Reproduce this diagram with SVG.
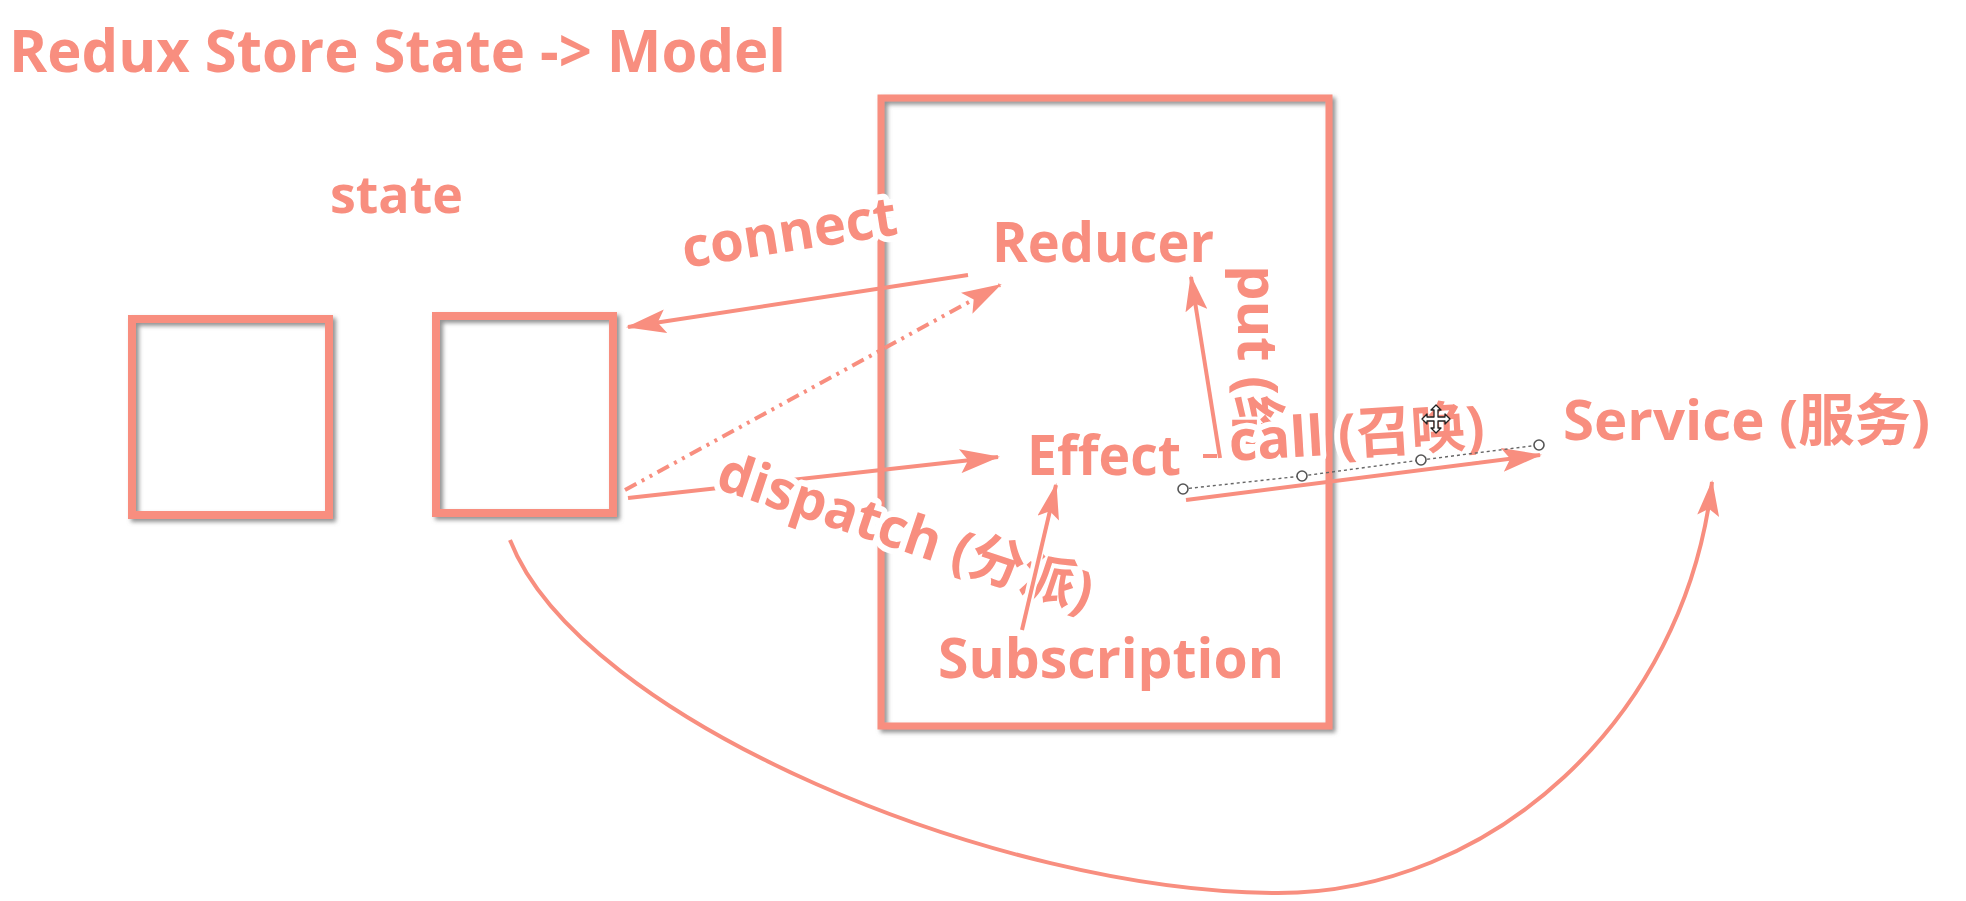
<svg xmlns="http://www.w3.org/2000/svg" width="1966" height="901" viewBox="0 0 1966 901">
<style>
.t{font-family:'Open Sans','Noto Sans CJK SC',sans-serif;font-weight:bold;fill:#F88E7F}
.halo{stroke:#fff;stroke-width:12;stroke-linejoin:round;paint-order:stroke}
.box{fill:none;stroke:#F88E7F;filter:url(#sh)}
.ln{fill:none;stroke:#F88E7F;stroke-width:4}
.sel{fill:#fff;stroke:#555;stroke-width:1.6}
</style>
<defs>
<filter id="sh" x="-10%" y="-10%" width="120%" height="120%">
<feDropShadow dx="3" dy="3" stdDeviation="2" flood-color="#777" flood-opacity="0.8"/>
</filter>
<marker id="ah" markerUnits="userSpaceOnUse" markerWidth="40" markerHeight="24" viewBox="0 0 40 24" refX="38" refY="12" orient="auto">
<path d="M0,0 L40,12 L0,24 L8,12 z" fill="#F88E7F"/>
</marker>
<marker id="ahs" markerUnits="userSpaceOnUse" markerWidth="36" markerHeight="22" viewBox="0 0 36 22" refX="34" refY="11" orient="auto">
<path d="M0,0 L36,11 L0,22 L7,11 z" fill="#F88E7F"/>
</marker>
</defs>
<rect width="1966" height="901" fill="#fff"/>

<text class="t" x="9" y="72" font-size="59" textLength="777" lengthAdjust="spacingAndGlyphs">Redux Store State -&gt; Model</text>

<g id="state-label"><text class="t" x="330" y="213" font-size="52" textLength="133" lengthAdjust="spacingAndGlyphs">state</text></g>
<g id="box1"><rect class="box" x="132" y="319" width="197" height="196" stroke-width="8"/></g>
<g id="box2"><rect class="box" x="436" y="316" width="177" height="197" stroke-width="8"/></g>
<g id="model"><rect class="box" x="881" y="98" width="448" height="628" stroke-width="7"/></g>

<g id="connectors">
<line class="ln" x1="968" y1="275" x2="628" y2="327" marker-end="url(#ah)"/>
<line class="ln" x1="625" y1="490" x2="1000" y2="285" stroke-dasharray="13 6 3 6 3 6" marker-end="url(#ah)"/>
<line class="ln" x1="628" y1="498" x2="998" y2="457" marker-end="url(#ah)"/>
<line class="ln" stroke-width="3" x1="1220" y1="458" x2="1191" y2="277" marker-end="url(#ahs)"/>
<line class="ln" stroke-width="3" x1="1203" y1="456" x2="1217" y2="456"/>
<line class="ln" stroke-width="5" x1="1186" y1="500" x2="1540" y2="455" marker-end="url(#ah)"/>
<path class="ln" stroke-width="3" d="M510,540 C580,720 1000,893 1278,893 C1490,893 1685,720 1712,482" marker-end="url(#ahs)"/>
</g>

<g id="connect-label"><text class="t halo" transform="translate(685,268) rotate(-9)" font-size="55" textLength="217" lengthAdjust="spacingAndGlyphs">connect</text></g>
<g id="dispatch-label"><text class="t halo" transform="translate(714,488) rotate(18.5)" font-size="55" textLength="392" lengthAdjust="spacingAndGlyphs">dispatch (分派)</text></g>

<g id="subscription-arrow">
<line x1="1022" y1="630" x2="1050" y2="500" stroke="#fff" stroke-width="10"/>
<line class="ln" stroke-width="3.5" x1="1022" y1="630" x2="1056" y2="485" marker-end="url(#ahs)"/>
</g>

<g id="reducer"><text class="t" x="992" y="262" font-size="55" textLength="222" lengthAdjust="spacingAndGlyphs">Reducer</text></g>
<g id="effect"><text class="t" x="1027" y="475" font-size="55" textLength="154" lengthAdjust="spacingAndGlyphs">Effect</text></g>
<g id="subscription"><text class="t" x="938" y="678" font-size="55" textLength="346" lengthAdjust="spacingAndGlyphs">Subscription</text></g>
<g id="service"><text class="t" x="1563" y="440" font-size="56" textLength="367" lengthAdjust="spacingAndGlyphs">Service (服务)</text></g>

<g id="put-label"><text class="t" transform="translate(1238,265) rotate(90)" font-size="56">put (给</text></g>
<g id="call-label"><text class="t halo" transform="translate(1230,461) rotate(-3.5)" font-size="56" textLength="256" lengthAdjust="spacingAndGlyphs">call (召唤)</text></g>

<g id="selection">
<polyline points="1183,489 1302,476 1421,460 1539,445" fill="none" stroke="#666" stroke-width="1.4" stroke-dasharray="3 3"/>
<circle class="sel" cx="1183" cy="489" r="5"/>
<circle class="sel" cx="1302" cy="476" r="5"/>
<circle class="sel" cx="1421" cy="460" r="5"/>
<circle class="sel" cx="1539" cy="445" r="5"/>
</g>

<g id="cursor" transform="translate(1436,419)">
<polygon points="0,-14 5,-9 2,-9 2,-2 9,-2 9,-5 14,0 9,5 9,2 2,2 2,9 5,9 0,14 -5,9 -2,9 -2,2 -9,2 -9,5 -14,0 -9,-5 -9,-2 -2,-2 -2,-9 -5,-9" fill="#fff" stroke="#222" stroke-width="1.3" stroke-linejoin="round"/>
</g>
</svg>
